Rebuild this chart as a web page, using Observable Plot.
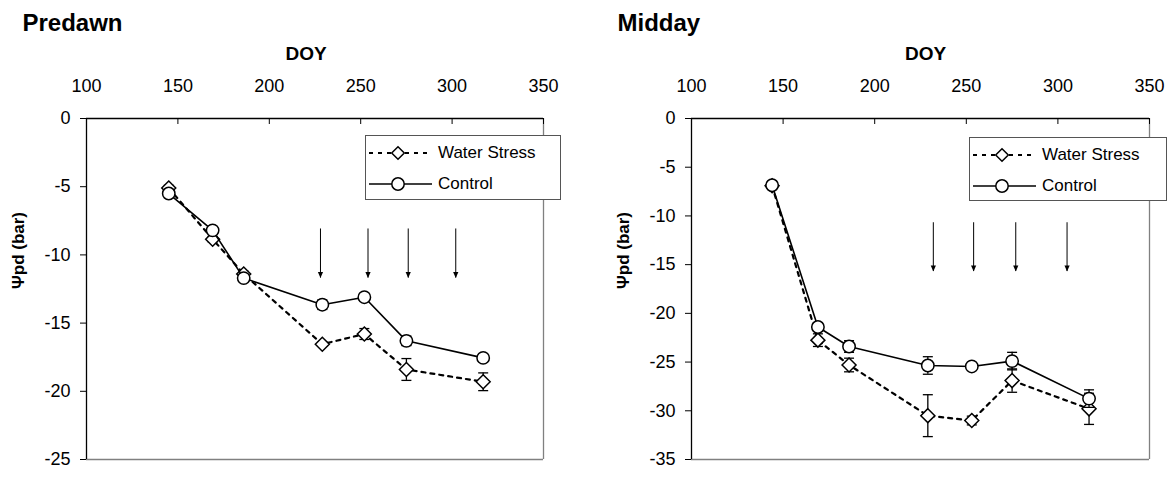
<!DOCTYPE html>
<html><head><meta charset="utf-8">
<script src="https://cdn.jsdelivr.net/npm/d3@7"></script>
<script src="https://cdn.jsdelivr.net/npm/@observablehq/plot@0.6"></script>
<style>
body{margin:0;background:#fff;font-family:"Liberation Sans",Arial,sans-serif;}
#wrap{position:relative;width:1171px;height:477px;overflow:hidden;background:#fff}
.panel{position:absolute;top:0}
.legend{position:absolute;border:1px solid #555;background:#fff;box-sizing:border-box;font-size:17px;color:#000}
.legend .row{position:absolute;left:0;height:24px;display:flex;align-items:center;white-space:nowrap}
.legend svg{display:block}
</style></head><body>
<div id="wrap"></div>
<script>
// ---- data ----
const seriesNames = ["Water Stress", "Control"];
const xTicks = [100, 150, 200, 250, 300, 350];
const xLabel = "DOY";
const yLabel = "Ψpd (bar)";
const titles = ["Predawn", "Midday"];

const predawnYTicks = [0, -5, -10, -15, -20, -25];
const predawnDOY = [145, 169, 186, 229, 252, 275, 317];
const predawnStress = [-5.1, -8.85, -11.4, -16.55, -15.8, -18.4, -19.3];
const predawnStressErr = [0.2, 0.2, 0.2, 0.15, 0.4, 0.8, 0.65];
const predawnControl = [-5.5, -8.2, -11.7, -13.65, -13.1, -16.3, -17.55];
const predawnControlErr = [0.15, 0.2, 0.2, 0.35, 0.2, 0.35, 0.2];
const predawnArrowDOY = [228, 254, 276, 302];
const predawnArrowFrom = -8.1;
const predawnArrowTo = -11.7;

const middayYTicks = [0, -5, -10, -15, -20, -25, -30, -35];
const middayDOY = [144, 169, 186, 229, 253, 275, 317];
const middayStress = [-6.9, -22.75, -25.3, -30.5, -31.0, -26.9, -29.8];
const middayStressErr = [0.3, 0.65, 0.7, 2.15, 0.45, 1.2, 1.6];
const middayControl = [-6.85, -21.4, -23.4, -25.35, -25.45, -24.9, -28.75];
const middayControlErr = [0.3, 0.4, 0.6, 0.9, 0.2, 0.9, 0.9];
const middayArrowDOY = [232, 254, 277, 305];
const middayArrowFrom = -10.7;
const middayArrowTo = -15.7;

// ---- helpers ----
const capSymbol = {draw(ctx) { ctx.moveTo(-5, 0); ctx.lineTo(5, 0); }};
const headSymbol = {draw(ctx) { ctx.moveTo(-2.6, -6); ctx.lineTo(2.6, -6); ctx.lineTo(0, 0); ctx.closePath(); }};
const FONT = '"Liberation Sans", Arial, sans-serif';

function rows(doy, vals, errs) {
  return doy.map((d, i) => ({doy: d, v: vals[i], lo: vals[i] - errs[i], hi: vals[i] + errs[i]}));
}

function errMarks(data) {
  return [
    Plot.ruleX(data, {x: "doy", y1: "lo", y2: "hi", stroke: "black", strokeWidth: 1.3}),
    Plot.dot(data, {x: "doy", y: "lo", symbol: capSymbol, stroke: "black", fill: "none", strokeWidth: 1.3}),
    Plot.dot(data, {x: "doy", y: "hi", symbol: capSymbol, stroke: "black", fill: "none", strokeWidth: 1.3})
  ];
}

function panel(o) {
  const stress = rows(o.doy, o.stress, o.stressErr);
  const control = rows(o.doy, o.control, o.controlErr);
  const innerH = o.height - o.marginTop - o.marginBottom;
  const yMin = d3.min(o.yTicks);
  return Plot.plot({
    width: o.width, height: o.height,
    marginLeft: o.marginLeft, marginRight: o.marginRight,
    marginTop: o.marginTop, marginBottom: o.marginBottom,
    style: {fontFamily: FONT, fontSize: "18px", background: "transparent", overflow: "visible", color: "black"},
    x: {domain: [100, 350], axis: null},
    y: {domain: [yMin, 0]},
    marks: [
      Plot.ruleY([yMin], {stroke: "#808080", strokeWidth: 1.3}),
      Plot.ruleX([350], {stroke: "#808080", strokeWidth: 1.3}),
      Plot.ruleY([0], {stroke: "black", strokeWidth: 1.3}),
      Plot.ruleX([100], {stroke: "black", strokeWidth: 1.3}),
      Plot.axisY({ticks: o.yTicks, tickSize: 6, tickPadding: 10, tickFormat: d => String(d), label: null, fontSize: 18}),
      Plot.tickX(xTicks, {x: d => d, insetBottom: innerH - 6, stroke: "black"}),
      Plot.text(xTicks, {x: d => d, frameAnchor: "top", lineAnchor: "middle", dy: -32, text: d => String(d), fontSize: 18}),
      Plot.text([xLabel], {frameAnchor: "top", lineAnchor: "middle", dx: o.doyDx, dy: -65, text: d => d, fontWeight: "bold", fontSize: 19}),
      Plot.text([yLabel], {frameAnchor: "left", lineAnchor: "middle", dx: o.yLabelDx, rotate: -90, text: d => d, fontWeight: "bold", fontSize: 17}),
      Plot.text([o.title], {frameAnchor: "top-left", lineAnchor: "middle", dx: o.titleDx, dy: -95, text: d => d, textAnchor: "start", fontWeight: "bold", fontSize: 24}),
      Plot.ruleX(o.arrowDOY, {x: d => d, y1: o.arrowFrom, y2: o.arrowTo, stroke: "black", strokeWidth: 1}),
      Plot.dot(o.arrowDOY, {x: d => d, y: o.arrowTo, symbol: headSymbol, fill: "black", stroke: "none"}),
      Plot.line(stress, {x: "doy", y: "v", stroke: "black", strokeWidth: 2.2, strokeDasharray: "4,5"}),
      ...errMarks(stress),
      Plot.dot(stress, {x: "doy", y: "v", symbol: "diamond2", r: 6.3, fill: "white", stroke: "black", strokeWidth: 1.5}),
      Plot.line(control, {x: "doy", y: "v", stroke: "black", strokeWidth: 1.6}),
      ...errMarks(control),
      Plot.dot(control, {x: "doy", y: "v", symbol: "circle", r: 6.2, fill: "white", stroke: "black", strokeWidth: 1.5})
    ]
  });
}

function legend(left, top, width, height) {
  const box = document.createElement("div");
  box.className = "legend";
  Object.assign(box.style, {left: left + "px", top: top + "px", width: width + "px", height: height + "px"});
  seriesNames.forEach((name, i) => {
    const row = document.createElement("div");
    row.className = "row";
    row.style.top = (i === 0 ? 5 : 36) + "px";
    const dashed = i === 0;
    const sym = dashed
      ? `<path d="M32,5.7L38.3,12L32,18.3L25.7,12Z" fill="white" stroke="black" stroke-width="1.5"/>`
      : `<circle cx="32" cy="12" r="6.2" fill="white" stroke="black" stroke-width="1.5"/>`;
    row.innerHTML = `<svg width="72" height="24"><line x1="3" x2="66" y1="12" y2="12" stroke="black" stroke-width="${dashed ? 2.2 : 1.6}" ${dashed ? 'stroke-dasharray="4,5"' : ''}/>${sym}</svg><span>${name}</span>`;
    box.appendChild(row);
  });
  return box;
}

const wrap = document.getElementById("wrap");
const left = document.createElement("div");
left.className = "panel"; left.style.left = "0px";
left.appendChild(panel({
  width: 585, height: 477, marginLeft: 86, marginRight: 42, marginTop: 118, marginBottom: 18,
  title: titles[0], titleDx: -64, doyDx: -9, yLabelDx: -68,
  yTicks: predawnYTicks, doy: predawnDOY,
  stress: predawnStress, stressErr: predawnStressErr,
  control: predawnControl, controlErr: predawnControlErr,
  arrowDOY: predawnArrowDOY, arrowFrom: predawnArrowFrom, arrowTo: predawnArrowTo
}));
wrap.appendChild(left);

const right = document.createElement("div");
right.className = "panel"; right.style.left = "585px";
right.appendChild(panel({
  width: 586, height: 477, marginLeft: 106, marginRight: 22, marginTop: 118, marginBottom: 18,
  title: titles[1], titleDx: -74, doyDx: 5, yLabelDx: -68,
  yTicks: middayYTicks, doy: middayDOY,
  stress: middayStress, stressErr: middayStressErr,
  control: middayControl, controlErr: middayControlErr,
  arrowDOY: middayArrowDOY, arrowFrom: middayArrowFrom, arrowTo: middayArrowTo
}));
wrap.appendChild(right);

wrap.appendChild(legend(365, 135, 196, 65));
wrap.appendChild(legend(969, 137, 198, 64));
</script>
</body></html>
